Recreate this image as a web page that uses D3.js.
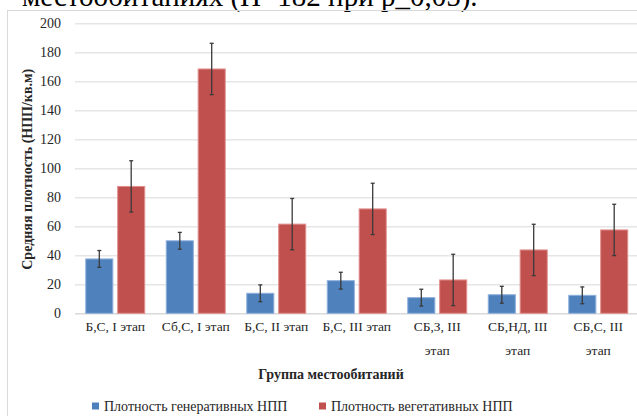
<!DOCTYPE html>
<html>
<head>
<meta charset="utf-8">
<script src="https://cdn.jsdelivr.net/npm/d3@7/dist/d3.min.js"></script>
<style>
  body { margin: 0; background: #fff; }
  svg text { font-family: "Liberation Serif", "Times New Roman", Times, serif !important; fill: #262626; }
</style>
</head>
<body>
<div id="chart"></div>
<script>
// data
var categories = ["Б,С, I этап", "Сб,С, I этап", "Б,С, II этап", "Б,С, III  этап",
                  "СБ,З, III этап", "СБ,НД, III этап", "СБ,С, III этап"];
var seriesNames = ["Плотность генеративных НПП", "Плотность вегетативных НПП"];
var generative = [37.5, 50, 13.8, 22.5, 10.8, 12.8, 12.4];
var vegetative = [87.5, 168.5, 61.5, 72, 23, 43.7, 57.5];
var generativeErr = [5.8, 5.8, 5.8, 5.8, 5.8, 5.8, 5.8];
var vegetativeErr = [17.7, 17.7, 17.7, 17.7, 17.7, 17.7, 17.7];
var yTicks = [0, 20, 40, 60, 80, 100, 120, 140, 160, 180, 200];

var width = 637, height = 416;
var margin = {top: 23.3, right: -1.5, bottom: 102.7, left: 75};
var colors = ["#4f81bd", "#c0504d"];
var strokes = ["#8eb0dc", "#e0908e"];

var svg = d3.select("#chart").append("svg")
    .attr("width", width)
    .attr("height", height);

// caption text cut off at the top of the screenshot
svg.append("text")
    .attr("x", 22)
    .attr("y", 6)
    .style("font-size", "29px")
    .style("fill", "#000")
    .text("местообитаниях (Н=182 при р_0,05).");

// chart frame
svg.append("rect")
    .attr("x", 7.5).attr("y", 10.5)
    .attr("width", 640).attr("height", 420)
    .attr("fill", "none")
    .attr("stroke", "#d9d9d9");

var w = width - margin.left - margin.right,
    h = height - margin.top - margin.bottom;

var g = svg.append("g")
    .attr("transform", "translate(" + margin.left + "," + margin.top + ")");

var x0 = d3.scaleBand().domain(categories).range([0, w]).paddingInner(0.255).paddingOuter(0.1275);
var x1 = d3.scaleBand().domain([0, 1]).range([0, x0.bandwidth()]).paddingInner(0.12);
var y = d3.scaleLinear().domain([0, 200]).range([h, 0]);

// gridlines
g.selectAll(".grid")
    .data(yTicks)
  .enter().append("line")
    .attr("x1", 0).attr("x2", w)
    .attr("y1", function(d) { return Math.round(y(d)) + 0.5; })
    .attr("y2", function(d) { return Math.round(y(d)) + 0.5; })
    .attr("stroke", function(d) { return d == 0 ? "#d9d9d9" : "#e6e6e6"; })
    .attr("stroke-width", 1.5);

// y axis labels
var yAxis = d3.axisLeft(y).tickValues(yTicks).tickSize(0).tickPadding(14);
var ya = g.append("g").call(yAxis).attr("font-family", null);
ya.select(".domain").remove();
ya.selectAll("text")
    .style("font-size", "14px")
    .attr("fill", "#404040");

// bars
var rows = categories.map(function(c, i) {
  return {cat: c, vals: [
    {s: 0, v: generative[i], e: generativeErr[i]},
    {s: 1, v: vegetative[i], e: vegetativeErr[i]}
  ]};
});

var grp = g.selectAll(".grp")
    .data(rows)
  .enter().append("g")
    .attr("transform", function(d) { return "translate(" + x0(d.cat) + ",0)"; });

grp.selectAll("rect")
    .data(function(d) { return d.vals; })
  .enter().append("rect")
    .attr("x", function(d) { return x1(d.s) + 0.5; })
    .attr("y", function(d) { return y(d.v); })
    .attr("width", x1.bandwidth() - 1)
    .attr("height", function(d) { return h - y(d.v); })
    .attr("fill", function(d) { return colors[d.s]; })
    .attr("stroke", function(d) { return strokes[d.s]; })
    .attr("stroke-width", 1);

// error bars
var eb = grp.selectAll(".err")
    .data(function(d) { return d.vals; })
  .enter().append("g")
    .attr("transform", function(d) { return "translate(" + (x1(d.s) + x1.bandwidth() / 2) + ",0)"; });

eb.append("line")
    .attr("x1", 0).attr("x2", 0)
    .attr("y1", function(d) { return y(d.v + d.e); })
    .attr("y2", function(d) { return y(Math.max(0, d.v - d.e)); })
    .attr("stroke", "#3a3a3a").attr("stroke-width", 1.3);
eb.append("line")
    .attr("x1", -2).attr("x2", 2)
    .attr("y1", function(d) { return y(d.v + d.e); })
    .attr("y2", function(d) { return y(d.v + d.e); })
    .attr("stroke", "#3a3a3a").attr("stroke-width", 1.3);
eb.append("line")
    .attr("x1", -2).attr("x2", 2)
    .attr("y1", function(d) { return y(Math.max(0, d.v - d.e)); })
    .attr("y2", function(d) { return y(Math.max(0, d.v - d.e)); })
    .attr("stroke", "#3a3a3a").attr("stroke-width", 1.3);

// x labels, the last three wrap onto two lines
var xAxis = d3.axisBottom(x0).tickSize(0).tickPadding(8);
var xa = g.append("g").attr("transform", "translate(0," + h + ")").call(xAxis).attr("font-family", null);
xa.select(".domain").remove();
xa.selectAll("text")
    .style("font-size", "13.5px")
    .attr("fill", "#404040")
    .each(function(d) {
      var t = d3.select(this);
      var words = d.split(/\s+/);
      if (words.length > 2 && d.indexOf("СБ") == 0) {
        t.text(null);
        t.append("tspan").attr("x", 0).attr("dy", "0.71em").text(words.slice(0, -1).join(" "));
        t.append("tspan").attr("x", 0).attr("dy", "1.75em").text(words[words.length - 1]);
        t.attr("dy", null);
      }
    });

// axis titles
svg.append("text")
    .attr("transform", "translate(27," + (margin.top + h / 2 + 1) + ") rotate(-90)")
    .attr("text-anchor", "middle")
    .attr("dy", "0.35em")
    .style("font-size", "14px")
    .style("font-weight", "bold")
    .text("Средняя плотность (НПП/кв.м)");

svg.append("text")
    .attr("x", 331)
    .attr("y", 379)
    .attr("text-anchor", "middle")
    .style("font-size", "14px")
    .style("font-weight", "bold")
    .text("Группа местообитаний");

// legend
var legendX = [92, 319];
var lg = svg.selectAll(".legend")
    .data(seriesNames)
  .enter().append("g")
    .attr("transform", function(d, i) { return "translate(" + legendX[i] + ",406)"; });
lg.append("rect")
    .attr("x", 0).attr("y", -3.5)
    .attr("width", 7).attr("height", 7)
    .attr("fill", function(d, i) { return colors[i]; });
lg.append("text")
    .attr("x", 12)
    .attr("dy", "0.35em")
    .style("font-size", "14px")
    .attr("fill", "#404040")
    .text(function(d) { return d; });
</script>
</body>
</html>
